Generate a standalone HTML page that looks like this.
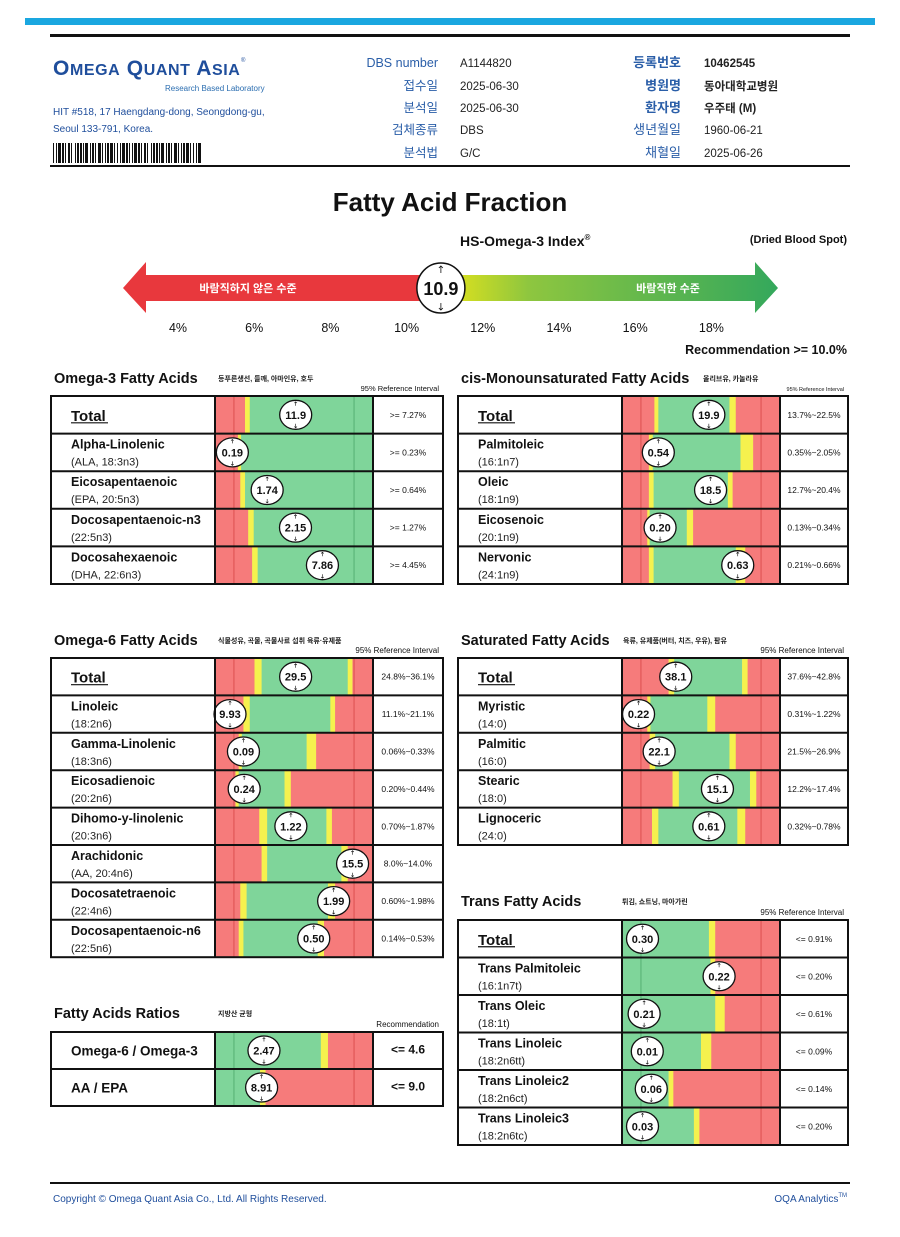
<!DOCTYPE html>
<html><head><meta charset="utf-8">
<style>
html,body{margin:0;padding:0;background:#fff;}
svg{display:block;font-family:"Liberation Sans","Noto Sans CJK KR",sans-serif;}
</style></head>
<body>
<svg id="page" width="900" height="1237" viewBox="0 0 900 1237" xmlns="http://www.w3.org/2000/svg">
<defs>
<linearGradient id="idxGrad" x1="123" y1="0" x2="777" y2="0" gradientUnits="userSpaceOnUse">
<stop offset="0" stop-color="#e8383d"/><stop offset="0.45" stop-color="#e8383d"/>
<stop offset="0.5" stop-color="#dfe21c"/><stop offset="0.62" stop-color="#8ec63f"/>
<stop offset="1" stop-color="#34a85c"/>
</linearGradient>
</defs>
<rect x="25" y="18" width="850" height="7" fill="#1aa7e0"/>
<rect x="50" y="34" width="800" height="3" fill="#111"/>
<rect x="50" y="165" width="800" height="2" fill="#111"/>
<g>
<text x="53" y="75" fill="#1f4e9c" font-size="21" font-weight="bold" letter-spacing="0.6">O<tspan font-size="16">MEGA</tspan> Q<tspan font-size="16">UANT</tspan> A<tspan font-size="16">SIA</tspan></text>
<text x="241" y="62" fill="#1f4e9c" font-size="6">®</text>
<text x="165" y="91" fill="#2a6db0" font-size="8">Research Based Laboratory</text>
</g>
<text x="53" y="115" font-size="10" fill="#1f4e9c">HIT #518, 17 Haengdang-dong, Seongdong-gu,</text>
<text x="53" y="132" font-size="10" fill="#1f4e9c">Seoul 133-791, Korea.</text>
<g id="barcode"></g>
<g id="hdr"></g>

<text x="450" y="211" text-anchor="middle" font-size="26" font-weight="bold" fill="#111">Fatty Acid Fraction</text>
<text x="460" y="246" font-size="14" font-weight="bold" fill="#111">HS-Omega-3 Index<tspan font-size="8" dy="-6">®</tspan></text>
<text x="847" y="243" text-anchor="end" font-size="11" font-weight="bold" fill="#111">(Dried Blood Spot)</text>
<g id="idx"></g>
<text x="847" y="354" text-anchor="end" font-size="12.5" font-weight="bold" fill="#111">Recommendation  &gt;= 10.0%</text>

<g id="tables"></g>

<rect x="50" y="1182" width="800" height="2" fill="#111"/>
<text x="53" y="1202" font-size="10" fill="#1f4e9c">Copyright © Omega Quant Asia Co., Ltd.  All Rights Reserved.</text>
<text x="847" y="1202" text-anchor="end" font-size="10" fill="#1f4e9c">OQA Analytics<tspan font-size="6" dy="-5">TM</tspan></text>
</svg>
<script>
// ---------- Index gauge data ----------
const indexTicks = [4, 6, 8, 10, 12, 14, 16, 18];
const indexValue = 10.9;

// ---------- Omega-3 ----------
const o3Names = ["Total", "Alpha-Linolenic", "Eicosapentaenoic", "Docosapentaenoic-n3", "Docosahexaenoic"];
const o3Subs = ["", "(ALA, 18:3n3)", "(EPA, 20:5n3)", "(22:5n3)", "(DHA, 22:6n3)"];
const o3Values = [11.9, 0.19, 1.74, 2.15, 7.86];
const o3ScaleMax = [23.3, 1.73, 5.27, 4.22, 11.56];
const o3Refs = [">= 7.27%", ">= 0.23%", ">= 0.64%", ">= 1.27%", ">= 4.45%"];
// ---------- cis-Mono ----------
const cmNames = ["Total", "Palmitoleic", "Oleic", "Eicosenoic", "Nervonic"];
const cmSubs = ["", "(16:1n7)", "(18:1n9)", "(20:1n9)", "(24:1n9)"];
const cmValues = [19.9, 0.54, 18.5, 0.20, 0.63];
const cmScaleMax = [36.2, 2.35, 33.0, 0.83, 0.86];
const cmRefs = ["13.7%~22.5%", "0.35%~2.05%", "12.7%~20.4%", "0.13%~0.34%", "0.21%~0.66%"];
// ---------- Omega-6 ----------
const o6Names = ["Total", "Linoleic", "Gamma-Linolenic", "Eicosadienoic", "Dihomo-y-linolenic", "Arachidonic", "Docosatetraenoic", "Docosapentaenoic-n6"];
const o6Subs = ["", "(18:2n6)", "(18:3n6)", "(20:2n6)", "(20:3n6)", "(AA, 20:4n6)", "(22:4n6)", "(22:5n6)"];
const o6Values = [29.5, 9.93, 0.09, 0.24, 1.22, 15.5, 1.99, 0.50];
const o6ScaleMax = [57.8, 110, 0.5, 1.30, 2.54, 17.8, 2.65, 0.80];
const o6Refs = ["24.8%~36.1%", "11.1%~21.1%", "0.06%~0.33%", "0.20%~0.44%", "0.70%~1.87%", "8.0%~14.0%", "0.60%~1.98%", "0.14%~0.53%"];
// ---------- Saturated ----------
const saNames = ["Total", "Myristic", "Palmitic", "Stearic", "Lignoceric"];
const saSubs = ["", "(14:0)", "(16:0)", "(18:0)", "(24:0)"];
const saValues = [38.1, 0.22, 22.1, 15.1, 0.61];
const saScaleMax = [112, 2.1, 94, 25, 1.11];
const saRefs = ["37.6%~42.8%", "0.31%~1.22%", "21.5%~26.9%", "12.2%~17.4%", "0.32%~0.78%"];
// ---------- Trans ----------
const trNames = ["Total", "Trans Palmitoleic", "Trans Oleic", "Trans Linoleic", "Trans Linoleic2", "Trans Linoleic3"];
const trSubs = ["", "(16:1n7t)", "(18:1t)", "(18:2n6tt)", "(18:2n6ct)", "(18:2n6tc)"];
const trValues = [0.30, 0.22, 0.21, 0.01, 0.06, 0.03];
const trScaleMax = [2.31, 0.358, 1.5, 0.0625, 0.324, 0.231];
const trRefs = ["<= 0.91%", "<= 0.20%", "<= 0.61%", "<= 0.09%", "<= 0.14%", "<= 0.20%"];
// ---------- Ratios ----------
const raNames = ["Omega-6 / Omega-3", "AA / EPA"];
const raValues = [2.47, 8.91];
const raScaleMax = [7.97, 30.2];
const raRefs = ["<= 4.6", "<= 9.0"];

// zone boundaries (fraction of bar): red|yellow|green|yellow|red
const o3Zones = [[.19,.22,1,1],[.145,.165,1,1],[.16,.19,1,1],[.21,.245,1,1],[.235,.27,1,1]];
const cmZones = [[.205,.23,.68,.72],[.17,.195,.75,.83],[.17,.2,.67,.70],[.16,.175,.41,.45],[.17,.2,.72,.78]];
const o6Zones = [[.25,.295,.84,.87],[.18,.22,.73,.76],[.15,.17,.58,.64],[.13,.15,.44,.48],[.28,.33,.705,.74],[.295,.33,.80,.84],[.16,.20,.715,.76],[.15,.18,.65,.69]];
const saZones = [[.295,.33,.76,.795],[.16,.18,.54,.59],[.175,.21,.68,.72],[.32,.36,.81,.85],[.19,.23,.73,.78]];
const trZones = [[0,0,.55,.59],[0,0,.56,.59],[0,0,.59,.65],[0,0,.50,.565],[0,0,.295,.325],[0,0,.455,.49]];
const raZones = [[0,0,.67,.715],[0,0,.285,.32]];

const NS = "http://www.w3.org/2000/svg";
const svg = document.getElementById('page');
function mk(tag, attrs, parent, text) {
  const e = document.createElementNS(NS, tag);
  for (const k in attrs) e.setAttribute(k, attrs[k]);
  if (text !== undefined) e.textContent = text;
  parent.appendChild(e);
  return e;
}

// ---- barcode ----
const bc = document.getElementById('barcode');
const bw = [1,2,1,1,3,1,2,1,1,2,2,1,1,3,1,1,2,1,2,1,1,1,3,2,1,1,2,1,1,2,3,1,1,2,1,1,2,1,3,1,1,2,1,2,1,1,3,1,2,1];
let bx = 53, bi = 0;
while (bx < 200) {
  const w = bw[bi % bw.length];
  if (bi % 2 === 0) {
    const b = mk('rect', {x: bx, y: 143, width: w, height: 20, fill: '#111'}, bc);
    
    
  }
  bx += w; bi++;
}

// ---- header info ----
const hdr = document.getElementById('hdr');
const midLabels = ["DBS number", "접수일", "분석일", "검체종류", "분석법"];
const midVals = ["A1144820", "2025-06-30", "2025-06-30", "DBS", "G/C"];
const rLabels = ["등록번호", "병원명", "환자명", "생년월일", "채혈일"];
const rVals = ["10462545", "동아대학교병원", "우주태 (M)", "1960-06-21", "2025-06-26"];
const hy = [67, 90, 112, 134, 157];
for (let i = 0; i < 5; i++) {
  const a = mk('text', {x: 438, y: hy[i], 'text-anchor': 'end', 'font-size': 12.5, fill: '#2a5ea8'}, hdr, midLabels[i]);
  
  
  const b = mk('text', {x: 460, y: hy[i], 'font-size': 11.5, fill: '#222'}, hdr, midVals[i]);
  
  
  const bold = i < 3;
  const c = mk('text', {x: 681, y: hy[i], 'text-anchor': 'end', 'font-size': 13, 'font-weight': bold ? 'bold' : 'normal', fill: '#2a5ea8'}, hdr, rLabels[i]);
  
  
  const d = mk('text', {x: 704, y: hy[i], 'font-size': 11.5, 'font-weight': bold ? 'bold' : 'normal', fill: '#222'}, hdr, rVals[i]);
  
  
}

// ---- index gauge ----
const idx = document.getElementById('idx');
const ix = v => 178 + (v - 4) * 38.1;
const arrow = mk('path', {d: 'M123,288 L146,262 L146,275 L755,275 L755,262 L778,288 L755,313 L755,301 L146,301 L146,313 Z', fill: 'url(#idxGrad)'}, idx);


const t1 = mk('text', {x: 248, y: 292, 'text-anchor': 'middle', 'font-size': 11, 'font-weight': 'bold', fill: '#fff'}, idx, '바람직하지 않은 수준');


const t2 = mk('text', {x: 668, y: 292, 'text-anchor': 'middle', 'font-size': 11, 'font-weight': 'bold', fill: '#fff'}, idx, '바람직한 수준');


indexTicks.forEach(t => {
  const e = mk('text', {x: ix(t), y: 332, 'text-anchor': 'middle', 'font-size': 12.5, fill: '#111'}, idx, t + '%');
  
  
});
const icx = ix(indexValue);
const ic = mk('ellipse', {cx: icx, cy: 288, rx: 24, ry: 25, fill: '#fff', stroke: '#111', 'stroke-width': 1.5}, idx);


mk('path', {d: `M${icx},266 v7 M${icx-2},268 l2,-2 l2,2 M${icx},303 v7 M${icx-2},308 l2,2 l2,-2`, stroke: '#111', 'stroke-width': 0.8, fill: 'none'}, idx);
const iv = mk('text', {x: icx, y: 295, 'text-anchor': 'middle', 'font-size': 18, 'font-weight': 'bold', fill: '#111'}, idx, indexValue.toFixed(1));



// ---- tables ----
const tablesG = document.getElementById('tables');
function fmt(v) { return v >= 10 ? v.toFixed(1) : v.toFixed(2); }

function section(cfg) {
  const g = mk('g', {}, tablesG);
  
  
  const tt = mk('text', {x: cfg.x + 3, y: cfg.titleY, 'font-size': 14.5, 'font-weight': 'bold', fill: '#111'}, g, cfg.title);
  
  
  const kt = mk('text', {x: cfg.noteX, y: cfg.titleY - 2, 'font-size': 7, 'font-weight': 'bold', fill: '#222'}, g, cfg.note);
  
  
  const rt = mk('text', {x: cfg.x + cfg.w - 4, y: cfg.top - 5, 'text-anchor': 'end', 'font-size': cfg.refHdrSize || 8, fill: '#111'}, g, cfg.refHdr);
  
  
  const n = cfg.values.length;
  const rh = cfg.rowH;
  const barX = cfg.x + cfg.nameW, barW = cfg.barW, refX = barX + barW, refW = cfg.w - cfg.nameW - cfg.barW;
  for (let i = 0; i < n; i++) {
    const y = cfg.top + i * rh;
    const rg = mk('g', {}, g);
    
    
    const z = cfg.zones[i];
    const segs = [[0, z[0], '#f67b7b'], [z[0], z[1], '#f5f14e'], [z[1], z[2], '#7fd59a'], [z[2], z[3], '#f5f14e'], [z[3], 1, '#f67b7b']];
    segs.forEach(s => {
      if (s[1] > s[0]) {
        const r = mk('rect', {x: barX + s[0] * barW, y: y, width: (s[1] - s[0]) * barW + 0.3, height: rh, fill: s[2]}, rg);
        
        
      }
    });
    [0.12, 0.88].forEach(f => {
      const inGreen = f >= z[1] && f <= z[2];
      mk('line', {x1: barX + f * barW, y1: y, x2: barX + f * barW, y2: y + rh, stroke: inGreen ? '#4aa86a' : '#d64545', 'stroke-width': 0.8}, rg);
    });
    let mx = barX + (cfg.values[i] / cfg.scaleMax[i]) * barW;
    mx = Math.max(barX + 15, Math.min(barX + barW - 15, mx));
    const cy = y + rh / 2;
    const m = mk('ellipse', {cx: mx, cy: cy, rx: 16, ry: 14.5, fill: '#fff', stroke: '#111', 'stroke-width': 1.3}, rg);
    
    
    mk('path', {d: `M${mx},${cy-13} v4 M${mx-1.3},${cy-11.7} l1.3,-1.3 l1.3,1.3 M${mx},${cy+9} v4 M${mx-1.3},${cy+11.7} l1.3,1.3 l1.3,-1.3`, stroke: '#111', 'stroke-width': 0.6, fill: 'none'}, rg);
    const vt = mk('text', {x: mx, y: cy + 4, 'text-anchor': 'middle', 'font-size': 11, 'font-weight': 'bold', fill: '#111'}, rg, fmt(cfg.values[i]));
    
    
    if (cfg.ratio) {
      const nt = mk('text', {x: cfg.x + 20, y: cy + 5, 'font-size': 13.5, 'font-weight': 'bold', fill: '#111'}, rg, cfg.names[i]);
      
      
    } else if (cfg.names[i] === 'Total') {
      const nt = mk('text', {x: cfg.x + 20, y: cy + 6, 'font-size': 15, 'font-weight': 'bold', fill: '#111'}, rg, 'Total');
      
      
      mk('line', {x1: cfg.x + 20, y1: cy + 8, x2: cfg.x + 57, y2: cy + 8, stroke: '#111', 'stroke-width': 1.2}, rg);
    } else {
      const nt = mk('text', {x: cfg.x + 20, y: y + 15, 'font-size': 12.5, 'font-weight': 'bold', fill: '#111'}, rg, cfg.names[i]);
      
      
      const st = mk('text', {x: cfg.x + 20, y: y + 32, 'font-size': 11, fill: '#222'}, rg, cfg.subs[i]);
      
      
    }
    const rf = mk('text', {x: refX + refW / 2, y: cy + 3, 'text-anchor': 'middle', 'font-size': cfg.ratio ? 12 : 8.5, 'font-weight': cfg.ratio ? 'bold' : 'normal', fill: '#111'}, rg, cfg.refs[i]);
    
    
    mk('line', {x1: cfg.x, y1: y, x2: cfg.x + cfg.w, y2: y, stroke: '#111', 'stroke-width': 2}, rg);
  }
  const H = n * rh;
  mk('rect', {x: cfg.x, y: cfg.top, width: cfg.w, height: H, fill: 'none', stroke: '#111', 'stroke-width': 2}, g);
  mk('line', {x1: barX, y1: cfg.top, x2: barX, y2: cfg.top + H, stroke: '#111', 'stroke-width': 2}, g);
  mk('line', {x1: refX, y1: cfg.top, x2: refX, y2: cfg.top + H, stroke: '#111', 'stroke-width': 2}, g);
}

const L = {x: 51, w: 392, nameW: 164, barW: 158};
const R = {x: 458, w: 390, nameW: 164, barW: 158};
section(Object.assign({key: 'omega3', title: 'Omega-3 Fatty Acids', note: '등푸른생선, 들깨, 아마인유, 호두', noteX: 218, titleY: 383, top: 396, rowH: 37.6, refHdr: '95% Reference Interval', refHdrSize: 7.5,
  names: o3Names, subs: o3Subs, values: o3Values, scaleMax: o3ScaleMax, refs: o3Refs, zones: o3Zones}, L));
section(Object.assign({key: 'cis-mono', title: 'cis-Monounsaturated Fatty Acids', note: '올리브유, 카놀라유', noteX: 703, titleY: 383, top: 396, rowH: 37.6, refHdr: '95% Reference Interval', refHdrSize: 5.5,
  names: cmNames, subs: cmSubs, values: cmValues, scaleMax: cmScaleMax, refs: cmRefs, zones: cmZones}, R));
section(Object.assign({key: 'omega6', title: 'Omega-6 Fatty Acids', note: '식물성유, 곡물, 곡물사료 섭취 육류·유제품', noteX: 218, titleY: 645, top: 658, rowH: 37.4, refHdr: '95% Reference Interval',
  names: o6Names, subs: o6Subs, values: o6Values, scaleMax: o6ScaleMax, refs: o6Refs, zones: o6Zones}, L));
section(Object.assign({key: 'saturated', title: 'Saturated Fatty Acids', note: '육류, 유제품(버터, 치즈, 우유), 팜유', noteX: 623, titleY: 645, top: 658, rowH: 37.4, refHdr: '95% Reference Interval',
  names: saNames, subs: saSubs, values: saValues, scaleMax: saScaleMax, refs: saRefs, zones: saZones}, R));
section(Object.assign({key: 'trans', title: 'Trans Fatty Acids', note: '튀김, 쇼트닝, 마아가린', noteX: 622, titleY: 906, top: 920, rowH: 37.5, refHdr: '95% Reference Interval',
  names: trNames, subs: trSubs, values: trValues, scaleMax: trScaleMax, refs: trRefs, zones: trZones}, R));
section(Object.assign({key: 'ratios', title: 'Fatty Acids Ratios', note: '지방산 균형', noteX: 218, titleY: 1018, top: 1032, rowH: 37, refHdr: 'Recommendation', ratio: true,
  names: raNames, subs: ['', ''], values: raValues, scaleMax: raScaleMax, refs: raRefs, zones: raZones}, L));
</script>
</body></html>
